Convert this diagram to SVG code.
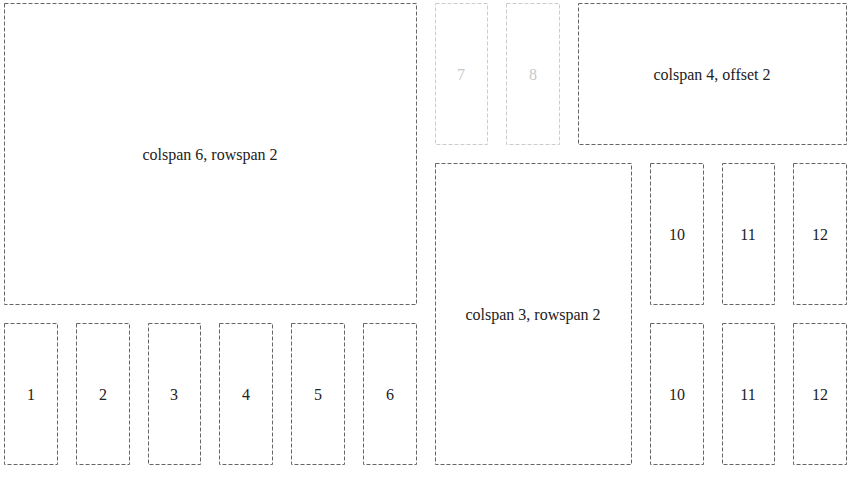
<svg xmlns="http://www.w3.org/2000/svg" width="852" height="477" viewBox="0 0 852 477">
<style>
.b{fill:none;stroke:#666;stroke-width:1;stroke-dasharray:4 2}
.f{fill:none;stroke:#ccc;stroke-width:1;stroke-dasharray:4 2}
text{font-family:"Liberation Serif","Times New Roman",serif;font-size:16px;fill:#222;text-anchor:middle;dominant-baseline:central}
.ft{fill:#c8c8c8}
</style>
<rect width="852" height="477" fill="#fff"/>
<g id="n-big"><rect class="b" x="4.5" y="3.5" width="412" height="301"/><text x="210" y="154">colspan 6, rowspan 2</text></g>
<g id="n-7"><rect class="f" x="435.5" y="3.5" width="52" height="141"/><text class="ft" x="461" y="74">7</text></g>
<g id="n-8"><rect class="f" x="506.5" y="3.5" width="53" height="141"/><text class="ft" x="533" y="74">8</text></g>
<g id="n-off"><rect class="b" x="578.5" y="3.5" width="268" height="141"/><text x="712" y="74">colspan 4, offset 2</text></g>
<g id="n-c3"><rect class="b" x="435.5" y="163.5" width="196" height="301"/><text x="533" y="314">colspan 3, rowspan 2</text></g>
<g id="n-10a"><rect class="b" x="650.5" y="163.5" width="53" height="141"/><text x="677" y="234">10</text></g>
<g id="n-11a"><rect class="b" x="722.5" y="163.5" width="52" height="141"/><text x="748" y="234">11</text></g>
<g id="n-12a"><rect class="b" x="793.5" y="163.5" width="53" height="141"/><text x="820" y="234">12</text></g>
<g id="n-10b"><rect class="b" x="650.5" y="323.5" width="53" height="141"/><text x="677" y="394">10</text></g>
<g id="n-11b"><rect class="b" x="722.5" y="323.5" width="52" height="141"/><text x="748" y="394">11</text></g>
<g id="n-12b"><rect class="b" x="793.5" y="323.5" width="53" height="141"/><text x="820" y="394">12</text></g>
<g id="n-1"><rect class="b" x="4.5" y="323.5" width="53" height="141"/><text x="31" y="394">1</text></g>
<g id="n-2"><rect class="b" x="76.5" y="323.5" width="53" height="141"/><text x="103" y="394">2</text></g>
<g id="n-3"><rect class="b" x="148.5" y="323.5" width="52" height="141"/><text x="174" y="394">3</text></g>
<g id="n-4"><rect class="b" x="219.5" y="323.5" width="53" height="141"/><text x="246" y="394">4</text></g>
<g id="n-5"><rect class="b" x="291.5" y="323.5" width="53" height="141"/><text x="318" y="394">5</text></g>
<g id="n-6"><rect class="b" x="363.5" y="323.5" width="53" height="141"/><text x="390" y="394">6</text></g>
<g id="connectors"></g>
</svg>
